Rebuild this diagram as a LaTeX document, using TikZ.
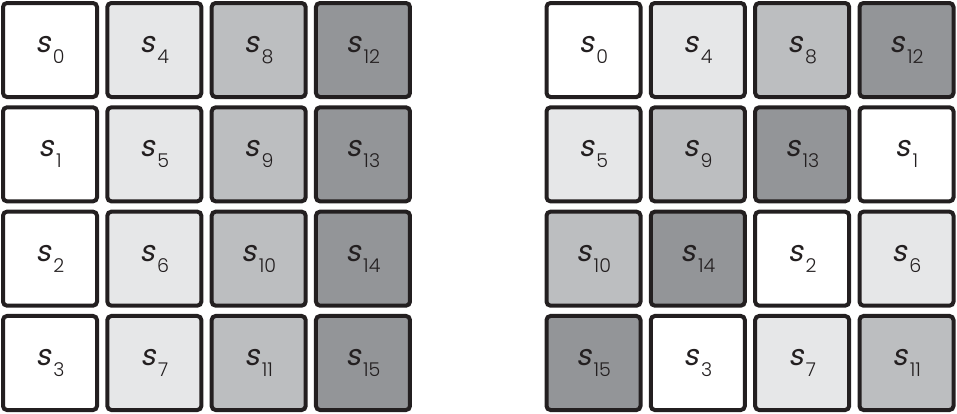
\documentclass[tikz,border=0pt]{standalone}
\usepackage{fontspec}
\newfontfamily\cellfont{Poppins Light}
\newfontfamily\cellfontsl[FakeSlant=0.2]{Poppins}
\definecolor{cW}{HTML}{FFFFFF}
\definecolor{cL}{HTML}{E6E7E8}
\definecolor{cM}{HTML}{BCBEC0}
\definecolor{cD}{HTML}{939598}
\definecolor{ink}{HTML}{231F20}
\newcommand{\sv}[1]{{\cellfontsl\fontsize{29}{29}\selectfont s}\kern2.5pt\raisebox{-11pt}{\cellfont\fontsize{19}{19}\selectfont #1}}
\tikzset{
  cell/.style={draw=ink, line width=4pt, rounded corners=4pt, minimum size=94pt, inner sep=0pt, text=ink},
}
\begin{document}
\begin{tikzpicture}[x=1pt,y=-1pt]
\useasboundingbox (0,0) rectangle (957,413);
% left grid
\foreach \c/\col in {0/cW,1/cL,2/cM,3/cD}{
  \foreach \r in {0,1,2,3}{
    \pgfmathtruncatemacro{\idx}{4*\c+\r}
    \node[cell, fill=\col] (L\idx) at ({50+104.33*\c},{50+104.33*\r}) {\sv{\idx}};
  }
}
% right grid
\foreach \r/\c/\idx/\col in {
  0/0/0/cW, 0/1/4/cL, 0/2/8/cM, 0/3/12/cD,
  1/0/5/cL, 1/1/9/cM, 1/2/13/cD, 1/3/1/cW,
  2/0/10/cM, 2/1/14/cD, 2/2/2/cW, 2/3/6/cL,
  3/0/15/cD, 3/1/3/cW, 3/2/7/cL, 3/3/11/cM}{
  \node[cell, fill=\col] (R\idx) at ({593.5+104.33*\c},{50+104.33*\r}) {\sv{\idx}};
}
\end{tikzpicture}
\end{document}
